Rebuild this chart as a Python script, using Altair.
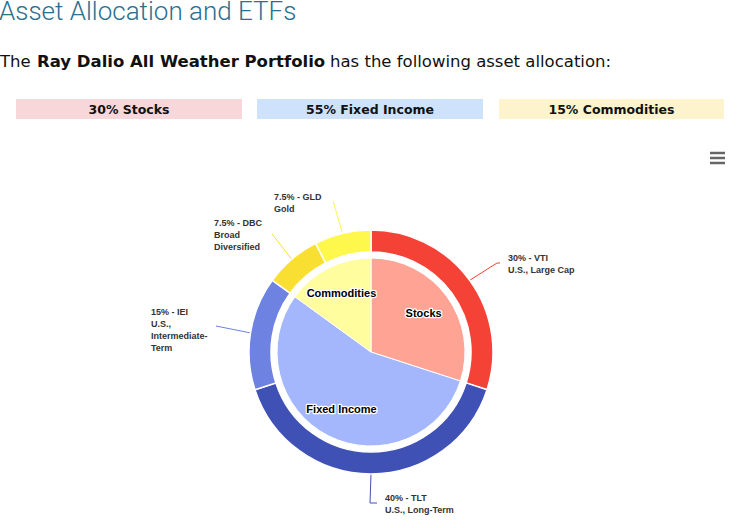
import math
import altair as alt
import pandas as pd

W, H = 743, 528

# ---------------- data ----------------
classes = ["Stocks", "Fixed Income", "Commodities"]
class_pct = [30, 55, 15]
class_colors = ["#FFA395", "#A4B7FD", "#FFFD9E"]

etf_names = ["VTI", "TLT", "IEI", "DBC", "GLD"]
etf_pct = [30, 40, 15, 7.5, 7.5]
etf_desc = [["U.S., Large Cap"], ["U.S., Long-Term"], ["U.S.,", "Intermediate-", "Term"],
            ["Broad", "Diversified"], ["Gold"]]
etf_colors = ["#F44336", "#3F51B5", "#6E82E2", "#FADF33", "#FEF84C"]

box_texts = ["30% Stocks", "55% Fixed Income", "15% Commodities"]
box_colors = ["#F8D7DA", "#CFE2FB", "#FDF3CD"]

# ---------------- layout ----------------
CX, CY = 371, 352
R_OUT, R_OUT_IN, R_IN = 122, 100, 94
# label anchors (x of text left, y of first line), elbow points
label_pos = {"VTI": (508, 258), "TLT": (385, 498), "IEI": (151, 312), "DBC": (214, 223), "GLD": (274, 197)}
elbow = {"VTI": [(497, 263), (500, 263)], "TLT": [(370, 503), (377, 503)],
         "IEI": [(216, 326)], "DBC": [(272, 234)], "GLD": [(333, 201)]}

inner_df = pd.DataFrame({"name": classes, "pct": class_pct, "idx": range(3)})
outer_df = pd.DataFrame({"name": etf_names, "pct": etf_pct, "idx": range(5)})

all_names = classes + etf_names
all_colors = class_colors + etf_colors
color_scale = alt.Scale(domain=all_names, range=all_colors)

xs = alt.Scale(domain=[0, W], range=[0, W])
ys = alt.Scale(domain=[0, H], range=[0, H])

# leader lines computed from cumulative angles
line_rows = []
cum = 0
for n, p in zip(etf_names, etf_pct):
    mid = (cum + p / 2) / 100 * 2 * math.pi
    cum += p
    sx = CX + R_OUT * math.sin(mid)
    sy = CY - R_OUT * math.cos(mid)
    pts = [(sx, sy)] + elbow[n]
    for k, (px, py) in enumerate(pts):
        line_rows.append({"name": n, "x": px, "y": py, "k": k})
lines_df = pd.DataFrame(line_rows)

label_rows = []
for n, p, desc in zip(etf_names, etf_pct, etf_desc):
    lx, ly = label_pos[n]
    pct_txt = (f"{p:g}%")
    lines = [f"{pct_txt} - {n}"] + desc
    for j, t in enumerate(lines):
        label_rows.append({"t": t, "x": lx, "y": ly + j * 12})
labels_df = pd.DataFrame(label_rows)

# ---------------- layers ----------------
outer = alt.Chart(outer_df).mark_arc(radius=R_OUT, radius2=R_OUT_IN, stroke="white", strokeWidth=1.5).encode(
    theta=alt.Theta("pct:Q", stack=True),
    order=alt.Order("idx:Q"),
    color=alt.Color("name:N", scale=color_scale, legend=None),
    x=alt.value(CX), y=alt.value(CY),
)
inner = alt.Chart(inner_df).mark_arc(radius=R_IN, stroke="white", strokeWidth=1).encode(
    theta=alt.Theta("pct:Q", stack=True),
    order=alt.Order("idx:Q"),
    color=alt.Color("name:N", scale=color_scale, legend=None),
    x=alt.value(CX), y=alt.value(CY),
)
inner_base = alt.Chart(inner_df).encode(
    theta=alt.Theta("pct:Q", stack=True),
    order=alt.Order("idx:Q"),
    text="name:N",
    x=alt.value(CX), y=alt.value(CY),
)
inner_halo = inner_base.mark_text(radius=65, font="Liberation Sans", fontSize=11, fontWeight="bold",
                                  stroke="white", strokeWidth=2.5, strokeJoin="round", color="white")
inner_txt = inner_base.mark_text(radius=65, font="Liberation Sans", fontSize=11, fontWeight="bold", color="black")

leaders = alt.Chart(lines_df).mark_line(strokeWidth=1).encode(
    x=alt.X("x:Q", scale=xs, axis=None),
    y=alt.Y("y:Q", scale=ys, axis=None),
    detail="name:N",
    order="k:Q",
    color=alt.Color("name:N", scale=color_scale, legend=None),
)
outer_labels = alt.Chart(labels_df).mark_text(align="left", baseline="middle", font="Liberation Sans",
                                              fontSize=9, fontWeight="bold", color="#333333").encode(
    x=alt.X("x:Q", scale=xs, axis=None),
    y=alt.Y("y:Q", scale=ys, axis=None),
    text="t:N",
)

# header
title = alt.Chart(pd.DataFrame({"t": ["Asset Allocation and ETFs"]})).mark_text(
    align="left", baseline="alphabetic", font="Roboto", fontSize=26, fontWeight=300, color="#2A6F8F"
).encode(x=alt.value(-1), y=alt.value(20), text="t:N")

sent_parts = ["The", "Ray Dalio All Weather Portfolio", "has the following asset allocation:"]
s1 = alt.Chart(pd.DataFrame({"t": [sent_parts[0]]})).mark_text(
    align="left", baseline="middle", font="DejaVu Sans", fontSize=16.5, color="#111111"
).encode(x=alt.value(0), y=alt.value(62), text="t:N")
s2 = alt.Chart(pd.DataFrame({"t": [sent_parts[1]]})).mark_text(
    align="left", baseline="middle", font="DejaVu Sans", fontSize=16.5, fontWeight="bold", color="#111111"
).encode(x=alt.value(37), y=alt.value(62), text="t:N")
s3 = alt.Chart(pd.DataFrame({"t": [sent_parts[2]]})).mark_text(
    align="left", baseline="middle", font="DejaVu Sans", fontSize=16.5, color="#111111"
).encode(x=alt.value(330), y=alt.value(62), text="t:N")

box_x = [(16, 242), (257, 483), (499, 724)]
boxes = []
for (x1, x2), t, c in zip(box_x, box_texts, box_colors):
    d = pd.DataFrame({"t": [t]})
    boxes.append(alt.Chart(d).mark_rect(color=c).encode(
        x=alt.value(x1), x2=alt.value(x2), y=alt.value(99), y2=alt.value(119)))
    boxes.append(alt.Chart(d).mark_text(font="DejaVu Sans", fontSize=12.5, fontWeight="bold", color="#111111",
                                        baseline="middle").encode(
        x=alt.value((x1 + x2) / 2), y=alt.value(109.5), text="t:N"))

menu = []
for yy in [153, 158, 163]:
    menu.append(alt.Chart(pd.DataFrame({"a": [0]})).mark_rule(color="#666666", strokeWidth=2.5).encode(
        x=alt.value(710), x2=alt.value(725), y=alt.value(yy)))

chart = alt.layer(
    *boxes, title, s1, s2, s3, *menu,
    leaders, outer, inner, inner_halo, inner_txt, outer_labels,
).resolve_scale(theta="independent").properties(
    width=W, height=H, padding=0, autosize=alt.AutoSizeParams(type="none")
).configure_view(stroke=None)

chart.save("out.html", embed_options={"renderer": "svg", "actions": False})
